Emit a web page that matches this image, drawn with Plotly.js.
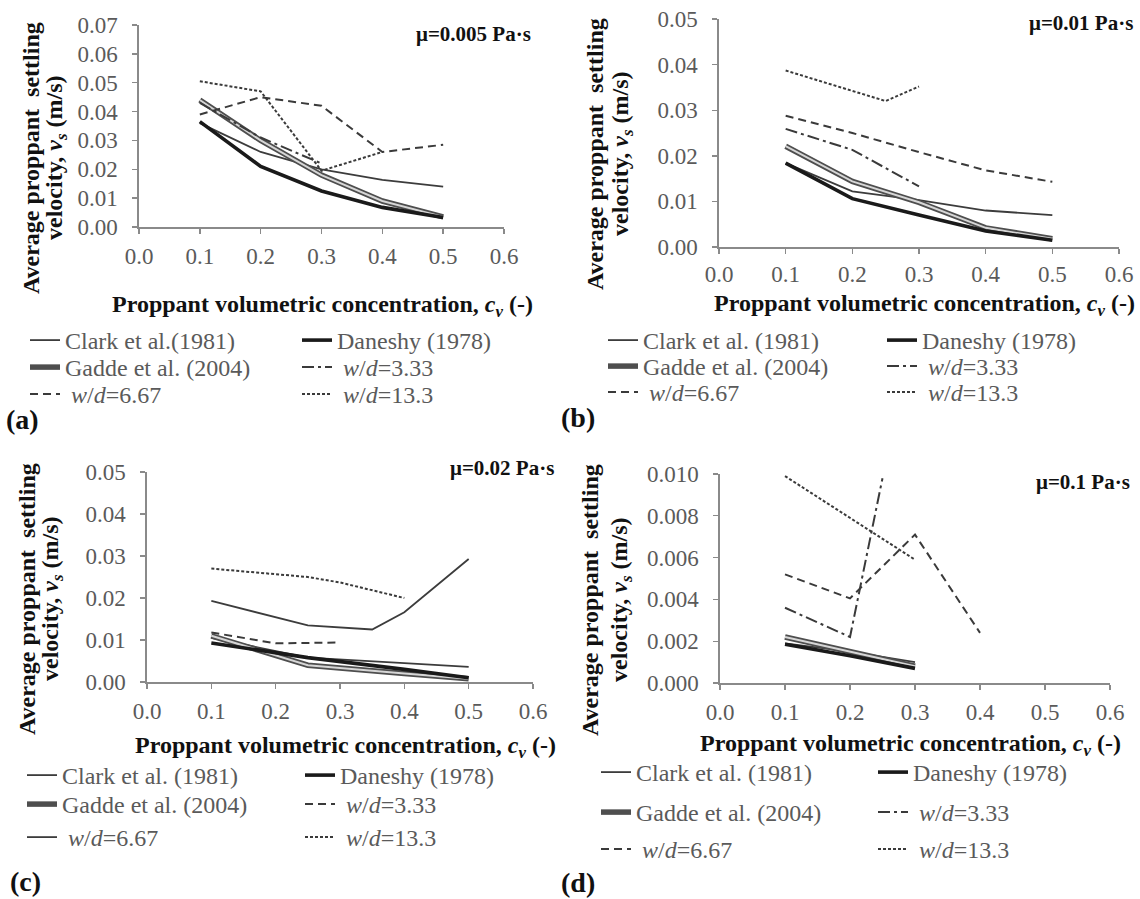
<!DOCTYPE html>
<html>
<head>
<meta charset="utf-8">
<script src="https://cdn.plot.ly/plotly-3.0.1.min.js"></script>
<style>html,body{margin:0;padding:0;background:#fff;}#chart{width:1140px;height:899px;}</style>
</head>
<body>
<div id="chart"></div>
<script>
// ---------- Data ----------
// Panel (a) mu = 0.005 Pa.s
const aX        = [0.1, 0.2, 0.3, 0.4, 0.5];
const aClark    = [0.036, 0.026, 0.020, 0.0163, 0.014];
const aDaneshy  = [0.0365, 0.021, 0.0125, 0.0068, 0.0033];
const aGadde    = [0.044, 0.030, 0.018, 0.009, 0.0035];
const aWd333X   = [0.1, 0.2, 0.3];
const aWd333    = [0.043, 0.031, 0.022];
const aWd667X   = [0.1, 0.2, 0.3, 0.4, 0.5];
const aWd667    = [0.039, 0.045, 0.042, 0.026, 0.0285];
const aWd133X   = [0.1, 0.2, 0.3, 0.4];
const aWd133    = [0.0505, 0.047, 0.0195, 0.026];

// Panel (b) mu = 0.01 Pa.s
const bX        = [0.1, 0.2, 0.3, 0.4, 0.5];
const bClark    = [0.0184, 0.0122, 0.0103, 0.008, 0.007];
const bDaneshy  = [0.0184, 0.0106, 0.007, 0.0035, 0.0015];
const bGadde    = [0.0221, 0.0144, 0.0098, 0.0042, 0.0018];
const bWd333X   = [0.1, 0.2, 0.3];
const bWd333    = [0.0259, 0.0213, 0.0133];
const bWd667X   = [0.1, 0.2, 0.3, 0.4, 0.5];
const bWd667    = [0.0288, 0.025, 0.0208, 0.0168, 0.0143];
const bWd133X   = [0.1, 0.25, 0.3];
const bWd133    = [0.0387, 0.032, 0.0352];

// Panel (c) mu = 0.02 Pa.s
const cX        = [0.1, 0.25, 0.4, 0.5];
const cClark    = [0.0105, 0.0058, 0.0045, 0.0036];
const cDaneshy  = [0.0093, 0.0058, 0.0030, 0.0010];
const cGadde    = [0.011, 0.0040, 0.0020, 0.0008];
const cWd333X   = [0.1, 0.2, 0.3];
const cWd333    = [0.0118, 0.0092, 0.0094];
const cWd667X   = [0.1, 0.25, 0.35, 0.4, 0.5];
const cWd667    = [0.0193, 0.0135, 0.0125, 0.0166, 0.0293];
const cWd133X   = [0.1, 0.25, 0.3, 0.4];
const cWd133    = [0.027, 0.025, 0.0237, 0.020];

// Panel (d) mu = 0.1 Pa.s
const dX        = [0.1, 0.2, 0.3];
const dClark    = [0.0019, 0.0015, 0.0010];
const dDaneshy  = [0.00185, 0.0013, 0.0007];
const dGadde    = [0.0022, 0.0015, 0.0008];
const dWd333X   = [0.1, 0.2, 0.25];
const dWd333    = [0.0036, 0.0022, 0.0098];
const dWd667X   = [0.1, 0.2, 0.3, 0.4];
const dWd667    = [0.0052, 0.00405, 0.0071, 0.0024];
const dWd133X   = [0.1, 0.3];
const dWd133    = [0.0099, 0.0059];

// Labels
const nameClarkA  = 'Clark et al.(1981)';
const nameClark   = 'Clark et al. (1981)';
const nameDaneshy = 'Daneshy (1978)';
const nameGadde   = 'Gadde et al. (2004)';
const nameWd333   = ' <i>w</i>/<i>d</i>=3.33';
const nameWd667   = ' <i>w</i>/<i>d</i>=6.67';
const nameWd133   = ' <i>w</i>/<i>d</i>=13.3';
const muLabels    = ['μ=0.005 Pa·s', 'μ=0.01 Pa·s', 'μ=0.02 Pa·s', 'μ=0.1 Pa·s'];
const panelLabels = ['(a)', '(b)', '(c)', '(d)'];
const xTitle      = 'Proppant volumetric concentration, <i>c<sub>v</sub></i> (-)';
const yTitle1     = 'Average proppant  settling';
const yTitle2     = 'velocity, <i>v<sub>s</sub></i> (m/s)';

// ---------- Styles ----------
const SERIF = 'Liberation Serif';
const stClark   = {color: '#3c3c3c', width: 1.8};
const stDaneshy = {color: '#1a1a1a', width: 3.6};
const stGaddeO  = {color: '#4e4e4e', width: 5.5};
const stGaddeI  = {color: '#d6d6d6', width: 2};
const stDashDot = {color: '#3a3a3a', width: 2, dash: '12px,4px,3px,4px'};
const stDash    = {color: '#3a3a3a', width: 2, dash: '8px,5px'};
const stDot     = {color: '#3a3a3a', width: 2, dash: '3px,2px'};
const stThin    = {color: '#3c3c3c', width: 1.8};

// ---------- Geometry (pixels in the 1140 x 899 page) ----------
const W = 1140, H = 899;
const px = v => v / W, py = v => 1 - v / H;
// legend text x (left col, right col) and row centres per panel
const legGeom = [
  {xl: 65,  xr: 337, rows: [341, 368, 395]},
  {xl: 643, xr: 922, rows: [341, 367, 393]},
  {xl: 62,  xr: 340, rows: [776, 805, 838]},
  {xl: 636, xr: 913, rows: [773, 813, 850]}
];

const traces = [];
const legends = {};
let legN = 0;
function tr(x, y, name, line, xa, ya, pos) {
  // pos = [textX, rowY] or null for a trace without legend entry
  const t = {type: 'scatter', mode: 'lines', x: x, y: y, name: name, line: line,
    xaxis: xa, yaxis: ya, hoverinfo: 'x+y+name'};
  if (pos) {
    legN++;
    const key = legN === 1 ? 'legend' : 'legend' + legN;
    t.legend = key; t.showlegend = true;
    legends[key] = {x: px(pos[0] - 40), y: py(pos[1] - 23), xanchor: 'left', yanchor: 'top',
      orientation: 'v', bgcolor: 'rgba(0,0,0,0)', borderwidth: 0, itemwidth: 30,
      font: {family: SERIF, size: 24, color: '#5a5a5a'}};
  } else {
    t.showlegend = false;
  }
  traces.push(t);
}
function panel(i, xa, ya, d) {
  const g = legGeom[i];
  tr(d.x, d.clark, d.clarkName, stClark, xa, ya, [g.xl, g.rows[0]]);
  tr(d.x, d.gadde, nameGadde, stGaddeO, xa, ya, [g.xl, g.rows[1]]);
  tr(d.x, d.gadde, nameGadde, stGaddeI, xa, ya, null);
  tr(d.x, d.daneshy, nameDaneshy, stDaneshy, xa, ya, [g.xr, g.rows[0]]);
  tr(d.w333x, d.w333, nameWd333, d.w333style, xa, ya, [g.xr, g.rows[1]]);
  tr(d.w667x, d.w667, nameWd667, d.w667style, xa, ya, [g.xl, g.rows[2]]);
  tr(d.w133x, d.w133, nameWd133, stDot, xa, ya, [g.xr, g.rows[2]]);
}
panel(0, 'x', 'y', {x: aX, clark: aClark, clarkName: nameClarkA, gadde: aGadde, daneshy: aDaneshy,
  w333x: aWd333X, w333: aWd333, w333style: stDashDot, w667x: aWd667X, w667: aWd667, w667style: stDash, w133x: aWd133X, w133: aWd133});
panel(1, 'x2', 'y2', {x: bX, clark: bClark, clarkName: nameClark, gadde: bGadde, daneshy: bDaneshy,
  w333x: bWd333X, w333: bWd333, w333style: stDashDot, w667x: bWd667X, w667: bWd667, w667style: stDash, w133x: bWd133X, w133: bWd133});
panel(2, 'x3', 'y3', {x: cX, clark: cClark, clarkName: nameClark, gadde: cGadde, daneshy: cDaneshy,
  w333x: cWd333X, w333: cWd333, w333style: stDash, w667x: cWd667X, w667: cWd667, w667style: stThin, w133x: cWd133X, w133: cWd133});
panel(3, 'x4', 'y4', {x: dX, clark: dClark, clarkName: nameClark, gadde: dGadde, daneshy: dDaneshy,
  w333x: dWd333X, w333: dWd333, w333style: stDashDot, w667x: dWd667X, w667: dWd667, w667style: stDash, w133x: dWd133X, w133: dWd133});

// ---------- Axes ----------
const tickFont = {family: SERIF, size: 23, color: '#5a5a5a'};
function xAxis(x0, x1, anchor, standoff) {
  return {domain: [px(x0), px(x1)], anchor: anchor, range: [0, 0.6], dtick: 0.1, tick0: 0,
    tickformat: '.1f', showgrid: false, zeroline: false, showline: true, linecolor: '#8a8a8a', linewidth: 1.6,
    ticks: 'outside', ticklen: 5, tickcolor: '#8a8a8a', tickwidth: 1.4, tickfont: tickFont,
    ticklabelstandoff: standoff, fixedrange: true};
}
function yAxis(y0, y1, anchor, top, dt, fmt) {
  return {domain: [py(y1), py(y0)], anchor: anchor, range: [0, top], dtick: dt, tick0: 0,
    tickformat: fmt, showgrid: false, zeroline: false, showline: true, linecolor: '#8a8a8a', linewidth: 1.6,
    ticks: 'outside', ticklen: 5, tickcolor: '#8a8a8a', tickwidth: 1.4, tickfont: tickFont,
    ticklabelstandoff: 10, fixedrange: true};
}

// ---------- Annotations ----------
const annots = [];
function ann(text, x, y, opts) {
  annots.push(Object.assign({text: text, x: px(x), y: py(y), xref: 'paper', yref: 'paper', showarrow: false,
    xanchor: 'center', yanchor: 'middle', font: {family: SERIF, size: 24, color: '#111', weight: 'bold'}}, opts || {}));
}
// x-axis titles
ann(xTitle, 322, 306);
ann(xTitle, 924, 305);
ann(xTitle, 345, 747);
ann(xTitle, 910, 745);
// y-axis titles (two rotated lines each)
const yOpts = {textangle: -90};
ann(yTitle1, 31, 158, yOpts);  ann(yTitle2, 56, 158, yOpts);
ann(yTitle1, 595, 154, yOpts); ann(yTitle2, 622, 154, yOpts);
ann(yTitle1, 27, 599, yOpts);  ann(yTitle2, 52, 599, yOpts);
ann(yTitle1, 590, 600, yOpts); ann(yTitle2, 621, 600, yOpts);
// viscosity labels
const muOpts = {xanchor: 'right', font: {family: SERIF, size: 21, color: '#111', weight: 'bold'}};
ann(muLabels[0], 533, 34, muOpts);
ann(muLabels[1], 1135, 23, muOpts);
ann(muLabels[2], 556, 468, muOpts);
ann(muLabels[3], 1132, 482, muOpts);
// panel labels
const pOpts = {xanchor: 'left', font: {family: SERIF, size: 28, color: '#111', weight: 'bold'}};
ann(panelLabels[0], 4, 419, pOpts);
ann(panelLabels[1], 559, 417, pOpts);
ann(panelLabels[2], 8, 881, pOpts);
ann(panelLabels[3], 559, 882, pOpts);

const layout = Object.assign({
  width: W, height: H, margin: {l: 0, r: 0, t: 0, b: 0}, paper_bgcolor: '#fff', plot_bgcolor: 'rgba(0,0,0,0)',
  font: {family: SERIF},
  xaxis:  xAxis(139, 504, 'y', 3),   yaxis:  yAxis(25, 227, 'x', 0.07, 0.01, '.2f'),
  xaxis2: xAxis(719, 1119, 'y2', 1), yaxis2: yAxis(19, 247, 'x2', 0.05, 0.01, '.2f'),
  xaxis3: xAxis(147, 533, 'y3', 3),  yaxis3: yAxis(472, 682, 'x3', 0.05, 0.01, '.2f'),
  xaxis4: xAxis(720, 1110, 'y4', 3), yaxis4: yAxis(474, 683, 'x4', 0.010, 0.002, '.3f'),
  annotations: annots,
  showlegend: true
}, legends);
Plotly.newPlot('chart', traces, layout, {displayModeBar: false, staticPlot: true});
</script>
</body>
</html>
